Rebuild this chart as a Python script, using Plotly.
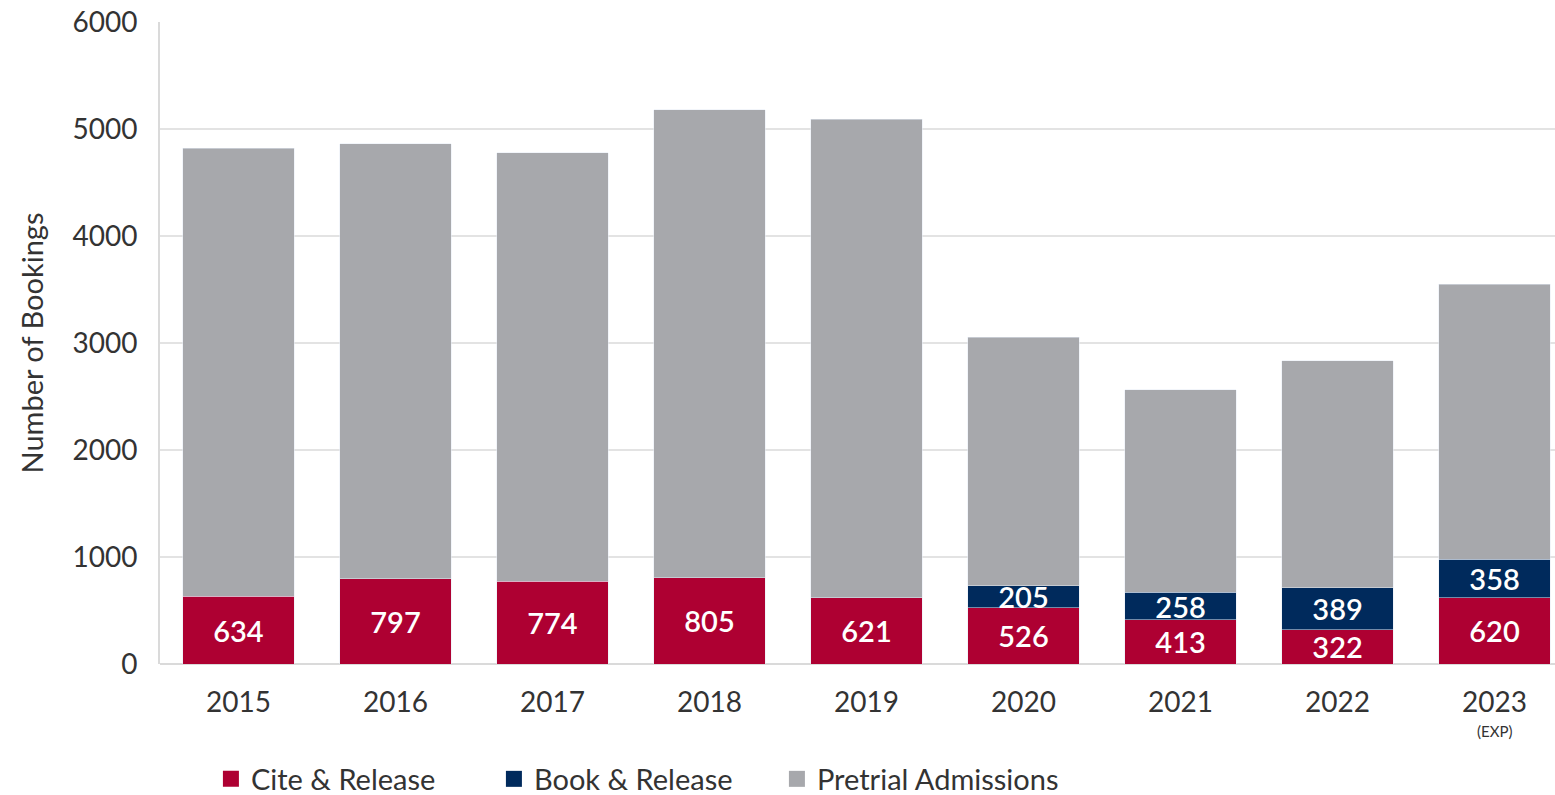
import plotly.graph_objects as go

years = ["2015", "2016", "2017", "2018", "2019", "2020", "2021", "2022", "2023"]
tick_text = ["2015", "2016", "2017", "2018", "2019", "2020", "2021", "2022", "2023"]
cite_release = [634, 797, 774, 805, 621, 526, 413, 322, 620]
book_release = [None, None, None, None, None, 205, 258, 389, 358]
pretrial = [4186, 4063, 4006, 4375, 4469, 2325, 1890, 2121, 2573]
series_names = ["Cite & Release", "Book & Release", "Pretrial Admissions"]
exp_year = "2023"
exp_note = "(EXP)"

RED = "#AE0032"
NAVY = "#002A5C"
GREY = "#A7A8AC"
FONT = "Lato"
TXT = "#333333"
colors = [RED, NAVY, GREY]

label_font = dict(family=FONT, size=29, color="white", weight=600)

fig = go.Figure()
fig.add_trace(go.Bar(
    x=years, y=cite_release, name=series_names[0], marker_color=RED,
    text=[str(v) for v in cite_release], textposition="inside",
    insidetextanchor="middle", textfont=label_font, textangle=0,
    constraintext="none", cliponaxis=False, showlegend=False,
))
fig.add_trace(go.Bar(
    x=years, y=book_release, name=series_names[1], marker_color=NAVY,
    text=[str(v) if v is not None else "" for v in book_release], textposition="inside",
    insidetextanchor="middle", textfont=label_font, textangle=0,
    constraintext="none", cliponaxis=False, showlegend=False,
))
fig.add_trace(go.Bar(
    x=years, y=pretrial, name=series_names[2], marker_color=GREY,
    textposition="none", showlegend=False,
))
# legend entries with larger square swatches
for name, col in zip(series_names, colors):
    fig.add_trace(go.Scatter(
        x=[None], y=[None], mode="markers", name=name,
        marker=dict(symbol="square", size=20, color=col),
        showlegend=True, hoverinfo="skip",
    ))

fig.add_annotation(
    x=years.index(exp_year), y=-0.104, xref="x", yref="paper", text=exp_note,
    showarrow=False, yanchor="middle",
    font=dict(family=FONT, size=15, color=TXT),
)

fig.update_layout(
    barmode="stack",
    bargap=0.29,
    width=1555, height=795,
    margin=dict(l=160, r=0, t=22, b=131),
    paper_bgcolor="white", plot_bgcolor="white",
    font=dict(family=FONT, size=28, color=TXT),
    legend=dict(
        orientation="h", traceorder="normal",
        x=0.0365, xanchor="left", yref="container", y=1 - 779 / 795, yanchor="middle",
        font=dict(family=FONT, size=29, color=TXT),
        itemwidth=30, tracegroupgap=0, entrywidth=238,
    ),
    showlegend=True,
)
fig.update_xaxes(
    type="category", range=[-0.5, 8.385], automargin=False,
    tickvals=years, ticktext=tick_text,
    showgrid=False, showline=False, ticks="", ticklabelstandoff=19,
    tickfont=dict(family=FONT, size=28, color=TXT),
)
fig.update_yaxes(
    range=[0, 6000], tickvals=[0, 1000, 2000, 3000, 4000, 5000, 6000],
    automargin=False,
    showgrid=True, gridcolor="#E3E3E3", gridwidth=2,
    showline=True, linecolor="#DADADA", linewidth=2,
    zeroline=True, zerolinecolor="#DADADA", zerolinewidth=2,
    ticks="", ticklabelstandoff=15,
    tickfont=dict(family=FONT, size=28, color=TXT),
    title=dict(text="Number of Bookings", standoff=20,
               font=dict(family=FONT, size=29, color=TXT)),
)

fig.write_html("out.html", config={"displayModeBar": False},
               post_script="document.body.style.margin='0';")
